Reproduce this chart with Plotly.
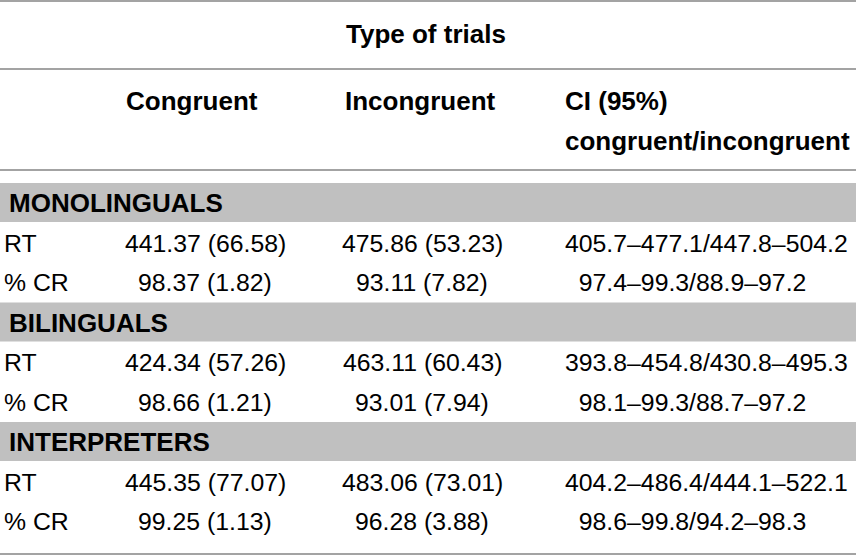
import plotly.graph_objects as go

# table content
groups = ["MONOLINGUALS", "BILINGUALS", "INTERPRETERS"]
measures = ["RT", "% CR"]
congruent = [
    ["441.37 (66.58)", "98.37 (1.82)"],
    ["424.34 (57.26)", "98.66 (1.21)"],
    ["445.35 (77.07)", "99.25 (1.13)"],
]
incongruent = [
    ["475.86 (53.23)", "93.11 (7.82)"],
    ["463.11 (60.43)", "93.01 (7.94)"],
    ["483.06 (73.01)", "96.28 (3.88)"],
]
ci_95 = [
    ["405.7–477.1/447.8–504.2", "97.4–99.3/88.9–97.2"],
    ["393.8–454.8/430.8–495.3", "98.1–99.3/88.7–97.2"],
    ["404.2–486.4/444.1–522.1", "98.6–99.8/94.2–98.3"],
]
spanner = "Type of trials"
col_headers = ["Congruent", "Incongruent", "CI (95%)<br>congruent/incongruent"]

W, H = 856, 557
FONT = "Liberation Sans, Arial, sans-serif"
LINE = "#a3a3a3"
BAND = "#c0c0c0"
REG = 24.8
BOLD = 26

# layout of the table (pixels)
top_line, mid_line, head_line, bottom_line = 1, 69, 170, 554
first_band, group_step, row_h = 183, 119.5, 39.8
col_x = {"label": 2, "group": 7, "cong": 205, "incong": 422, "ci": 563}


def pad_ci(s):
    # pad the leading integer to 3 digits with figure spaces (decimal alignment)
    lead = s.split(".")[0]
    return "\u2007" * (3 - len(lead)) + s


fig = go.Figure()
shapes = []
annotations = []


def text(x, y, s, anchor="left", bold=False, size=REG):
    annotations.append(dict(
        x=x, y=y, xref="x", yref="y", text=f"<b>{s}</b>" if bold else s,
        showarrow=False, xanchor=anchor, yanchor="middle", align="left",
        font=dict(family=FONT, size=size, color="black"),
    ))


for y in [top_line, mid_line, head_line, bottom_line]:
    shapes.append(dict(type="line", xref="x", yref="y", x0=0, x1=W, y0=y, y1=y,
                       line=dict(color=LINE, width=2)))

# headers
text(426, 34, spanner, anchor="center", bold=True, size=BOLD)
text(124, 101, col_headers[0], bold=True, size=BOLD)
text(343, 101, col_headers[1], bold=True, size=BOLD)
ci_lines = col_headers[2].split("<br>")
text(col_x["ci"], 101, ci_lines[0], bold=True, size=BOLD)
text(col_x["ci"], 141, ci_lines[1], bold=True, size=BOLD)

for g, name in enumerate(groups):
    top = first_band + g * group_step
    shapes.append(dict(type="rect", xref="x", yref="y", x0=0, x1=W, y0=top, y1=top + 39,
                       fillcolor=BAND, line=dict(width=0), layer="below"))
    text(col_x["group"], top + 20, name, bold=True, size=BOLD)
    for r, m in enumerate(measures):
        y = top + 60 + r * row_h
        text(col_x["label"], y, m)
        text(col_x["cong"], y, congruent[g][r], anchor="center")
        text(col_x["incong"], y, incongruent[g][r], anchor="center")
        text(col_x["ci"], y, pad_ci(ci_95[g][r]))

fig.update_layout(
    width=W, height=H, autosize=False,
    margin=dict(l=0, r=0, t=0, b=0),
    paper_bgcolor="white", plot_bgcolor="white",
    xaxis=dict(range=[0, W], visible=False, fixedrange=True),
    yaxis=dict(range=[H, 0], visible=False, fixedrange=True),
    shapes=shapes, annotations=annotations, showlegend=False,
)

# drop the browser's default body margin so the table sits flush
fig.write_html("out.html", config={"displayModeBar": False},
               post_script="document.body.style.margin='0';")
